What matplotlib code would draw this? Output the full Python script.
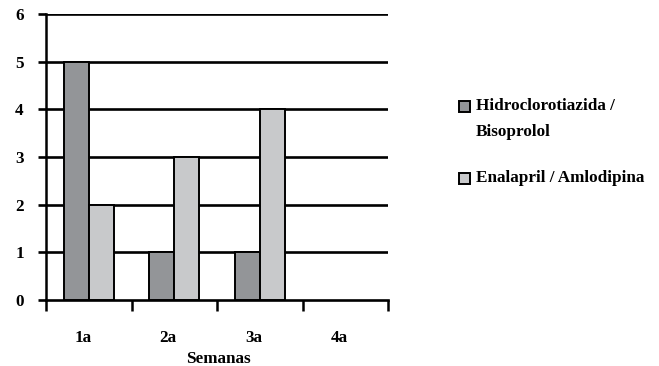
import matplotlib
matplotlib.use("Agg")
import matplotlib.pyplot as plt
from matplotlib.patches import Rectangle
import numpy as np

semanas = ["1a", "2a", "3a", "4a"]
hidro_biso = [5, 1, 1, 0]
enal_amlo = [2, 3, 4, 0]
series_labels = ["Hidroclorotiazida /\nBisoprolol", "Enalapril / Amlodipina"]
colors = ["#939598", "#c8c9cb"]

plt.rcParams["font.family"] = ["Liberation Serif", "DejaVu Serif"]
plt.rcParams["font.weight"] = "bold"

W, H = 659, 366
FS = 12.3
fig = plt.figure(figsize=(W / 100, H / 100), dpi=100)
ax = fig.add_axes([46 / W, 1 - 300 / H, (388 - 46) / W, (300 - 14) / H])

x = np.arange(len(semanas))
bw = 0.29
for vals, off, c in [(hidro_biso, -bw / 2, colors[0]), (enal_amlo, bw / 2, colors[1])]:
    for xi, v in zip(x, vals):
        if v > 0:
            ax.bar(xi + off, v, width=bw, color=c, edgecolor="black",
                   linewidth=1.4, zorder=3)

ax.set_xlim(-0.5, 3.5)
ax.set_ylim(0, 6)
ax.set_yticks(range(0, 7))
for yv in range(1, 7):
    ax.axhline(yv, color="black", linewidth=1.9, zorder=1)

# category boundary ticks on the x axis
ax.set_xticks(np.arange(-0.5, 4, 1.0))
ax.set_xticklabels([])
ax.tick_params(axis="x", length=8, width=1.8, direction="out")
ax.tick_params(axis="y", length=6, width=1.9, direction="out", pad=10,
               labelsize=FS)
for xi, lab in zip(x, semanas):
    ax.text(xi - 0.07, -0.62, lab, ha="center", va="top", fontsize=FS,
            fontweight="bold")
ax.text(1.52, -1.08, "Semanas", ha="center", va="top", fontsize=FS,
        fontweight="bold")
for lbl in ax.get_yticklabels():
    lbl.set_fontweight("bold")

for s in ["top", "right"]:
    ax.spines[s].set_visible(False)
ax.spines["left"].set_linewidth(1.8)
ax.spines["bottom"].set_linewidth(1.9)

# legend drawn in figure pixel coordinates
def fig_box(px, py, c):
    fig.patches.append(Rectangle((px / W, 1 - (py + 11) / H), 11 / W, 11 / H,
                                 transform=fig.transFigure, facecolor=c,
                                 edgecolor="black", linewidth=1.4))

fig_box(459, 101, colors[0])
fig.text(476 / W, 1 - 106.5 / H, "Hidroclorotiazida /", fontsize=FS,
         fontweight="bold", va="center")
fig.text(476 / W, 1 - 131.5 / H, "Bisoprolol", fontsize=FS,
         fontweight="bold", va="center")
fig_box(459, 173, colors[1])
fig.text(476 / W, 1 - 178.5 / H, series_labels[1], fontsize=FS,
         fontweight="bold", va="center")

fig.savefig("out.png", dpi=100)
